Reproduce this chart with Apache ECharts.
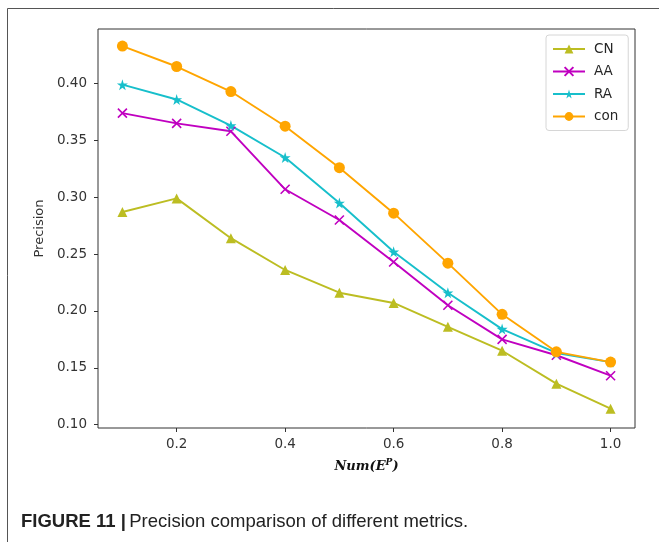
<!DOCTYPE html>
<html><head><meta charset="utf-8">
<script src="https://cdn.jsdelivr.net/npm/echarts@6/dist/echarts.min.js"></script>
<style>html,body{margin:0;padding:0;background:#fff}#c{width:659px;height:542px}</style>
</head><body><div id="c"></div>
<script>
const xValues = [0.1,0.2,0.3,0.4,0.5,0.6,0.7,0.8,0.9,1.0];
const cnValues = [0.287,0.299,0.264,0.236,0.216,0.207,0.186,0.165,0.136,0.114];
const aaValues = [0.374,0.365,0.358,0.307,0.280,0.243,0.205,0.175,0.161,0.143];
const raValues = [0.399,0.386,0.363,0.335,0.295,0.252,0.216,0.184,0.163,0.155];
const conValues = [0.433,0.415,0.393,0.3625,0.326,0.286,0.242,0.197,0.164,0.155];
const xTicks = [0.2,0.4,0.6,0.8,1.0];
const yTicks = [0.10,0.15,0.20,0.25,0.30,0.35,0.40];

const starPath = 'path://M50,0 L61,35 L98,35 L68,57 L79,91 L50,70 L21,91 L32,57 L2,35 L39,35 Z';
const xPath = 'path://M0,0 L10,10 M10,0 L0,10';
const pairs = v => xValues.map((x,i)=>[x,v[i]]);
const tickFont = {fontFamily:'DejaVu Sans', fontSize:13.5, color:'#333'};

function mk(name, data, color, symbol, size, extra){
  return Object.assign({
    name, type:'line', data:pairs(data), symbol, symbolSize:size,
    lineStyle:{color, width:1.9}, itemStyle:{color, borderColor:color, borderWidth:0},
    emphasis:{disabled:true}, animation:false, z:2
  }, extra||{});
}

const chart = echarts.init(document.getElementById('c'), null, {renderer:'canvas'});
chart.setOption({
  animation:false,
  backgroundColor:'#fff',
  grid:{left:98, top:29, right:24, bottom:114, show:true, borderColor:'#333', borderWidth:1, containLabel:false},
  xAxis:{type:'value', min:0.055, max:1.045,
    axisLine:{show:false}, splitLine:{show:false},
    axisTick:{show:true, length:4, lineStyle:{color:'#333'}, customValues:xTicks},
    axisLabel:Object.assign({customValues:xTicks, margin:9, formatter:v=>v.toFixed(1)}, tickFont),
    name:'{a|Num(E}{b|P}{a|)}', nameLocation:'middle', nameGap:30,
    nameTextStyle:{rich:{
      a:{fontFamily:'DejaVu Serif', fontStyle:'italic', fontWeight:'bold', fontSize:13, color:'#111'},
      b:{fontFamily:'DejaVu Serif', fontStyle:'italic', fontWeight:'bold', fontSize:9, color:'#111', verticalAlign:'top', padding:[0,0,8,0]}
    }}
  },
  yAxis:{type:'value', min:0.097, max:0.448,
    axisLine:{show:false}, splitLine:{show:false},
    axisTick:{show:true, length:4, lineStyle:{color:'#333'}, customValues:yTicks},
    axisLabel:Object.assign({customValues:yTicks, margin:11, formatter:v=>v.toFixed(2)}, tickFont),
    name:'Precision', nameLocation:'middle', nameGap:52, nameRotate:90,
    nameTextStyle:{fontFamily:'DejaVu Sans', fontSize:13, color:'#333'}
  },
  legend:{orient:'vertical', left:546, top:35, itemWidth:32, itemHeight:11, itemGap:8.5,
    padding:[7,10,7,6], borderColor:'#d6d6d6', borderWidth:1, borderRadius:3,
    textStyle:{fontFamily:'DejaVu Sans', fontSize:13.5, color:'#262626', padding:[0,0,0,4]},
    data:['CN','AA','RA','con']
  },
  series:[
    mk('CN', cnValues, '#bcbd22', 'triangle', 10),
    mk('AA', aaValues, '#c000c0', xPath, 9, {itemStyle:{color:'none', borderColor:'#c000c0', borderWidth:1.6}}),
    mk('RA', raValues, '#17bfcb', starPath, 11),
    mk('con', conValues, '#ffa500', 'circle', 11)
  ],
  graphic:[
    {type:'rect', shape:{x:7.5, y:8.5, width:700, height:600}, style:{fill:'none', stroke:'#555', lineWidth:1}, z:-1},
    {type:'text', left:21, top:512, style:{
      text:'{b|FIGURE 11 |} {n|Precision comparison of different metrics.}',
      rich:{
        b:{fontFamily:'Liberation Sans', fontWeight:'bold', fontSize:18.5, fill:'#222'},
        n:{fontFamily:'Liberation Sans', fontSize:18.5, fill:'#222'}
      }
    }}
  ]
});
</script></body></html>
